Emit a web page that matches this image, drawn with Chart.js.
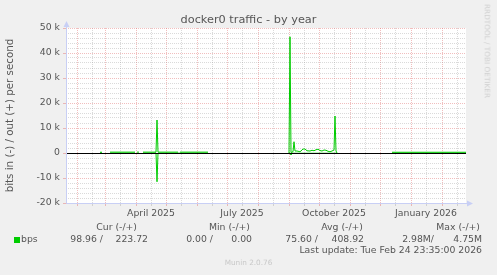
<!DOCTYPE html>
<html>
<head>
<meta charset="utf-8">
<script src="https://cdn.jsdelivr.net/npm/chart.js@4/dist/chart.umd.min.js"></script>
<style>
  body { margin: 0; background: #f0f0f0; }
  #wrap { position: relative; width: 497px; height: 275px; font-family: 'DejaVu Sans', sans-serif; color: #555; }
  #wrap canvas { position: absolute; left: 0; top: 0; }
  .t { position: absolute; white-space: nowrap; line-height: 1; font-size: 9.3px; }
</style>
</head>
<body>
<div id="wrap">
  <canvas id="chart" width="497" height="275"></canvas>
  <div class="t" style="left:0;width:497px;text-align:center;top:13.9px;font-size:11.3px">docker0 traffic - by year</div>
  <div class="t" style="left:487px;top:51px;font-size:7.3px;color:#cfcfcf;transform:translate(-50%,-50%) rotate(90deg)">RRDTOOL / TOBI OETIKER</div>

  <div class="t" style="right:360px;top:222.4px">Cur (-/+)</div>
  <div class="t" style="right:247px;top:222.4px">Min (-/+)</div>
  <div class="t" style="right:134px;top:222.4px">Avg (-/+)</div>
  <div class="t" style="right:17px;top:222.4px">Max (-/+)</div>

  <div style="position:absolute;left:14px;top:237px;width:6px;height:6px;background:#00cc00"></div>
  <div class="t" style="left:21px;top:234.4px">bps</div>
  <div class="t" style="right:394px;top:234.4px">98.96 /</div>
  <div class="t" style="right:349px;top:234.4px">223.72</div>
  <div class="t" style="right:284px;top:234.4px">0.00 /</div>
  <div class="t" style="right:245px;top:234.4px">0.00</div>
  <div class="t" style="right:179px;top:234.4px">75.60 /</div>
  <div class="t" style="right:133px;top:234.4px">408.92</div>
  <div class="t" style="right:63px;top:234.4px">2.98M/</div>
  <div class="t" style="right:15px;top:234.4px">4.75M</div>

  <div class="t" style="right:15px;top:245.2px">Last update: Tue Feb 24 23:35:00 2026</div>
  <div class="t" style="left:0;width:497px;text-align:center;top:259.2px;font-size:7.3px;color:#c8c8c8">Munin 2.0.76</div>
</div>
<script>
// x values are days since 1 Jan 2025; the graph covers 400 days ending 24 Feb 2026 23:35
const xMin = 20;
const xMax = 420;

// month starts (major grid) and mid-months (minor grid)
const monthStarts = [31, 59, 90, 120, 151, 181, 212, 243, 273, 304, 334, 365, 396];
const midMonths = [46, 74, 105, 135, 166, 196, 227, 258, 288, 319, 349, 380, 411];
const xLabelDays = [105, 196, 288, 380];
const xLabels = ['April 2025', 'July 2025', 'October 2025', 'January 2026'];

const yMajor = [-20000, -10000, 0, 10000, 20000, 30000, 40000, 50000];
const yLabels = ['-20 k', '-10 k', '0', '10 k', '20 k', '30 k', '40 k', '50 k'];

// out (+), bits per second; null = no data
const outDays = [54, 56, 57, 64, 89, 90, 91, 93, 94, 97, 110, 111, 112, 132, 133, 134, 162, 163,
  243, 244, 245, 247, 248, 249, 251, 254, 256, 257, 259, 261, 264, 266, 268, 270, 272, 274,
  276, 278, 280, 282, 284, 286, 288, 289, 290, 291, 292, 346, 420];
const outBps = [300, 300, null, 350, 350, null, 350, 350, null, 350, 350, 13200, 350, 350, null, 350, 350, null,
  0, 46500, 200, 500, 4500, 800, 800, 500, 1200, 1600, 1600, 900, 800, 1100, 900, 1300, 1500, 1000,
  800, 1200, 1100, 700, 500, 800, 1200, 14800, 800, 0, null, 300, 300];

// in (-), drawn negative
const inDays = [54, 56, 57, 64, 89, 90, 97, 110, 111, 112, 162, 163, 243, 244, 245, 246, 291, 292, 346, 420];
const inBps = [-50, -50, null, -50, -50, null, -50, -50, -11500, -50, -50, null, 0, -100, -800, -100, -100, null, -50, -50];

const majorGrid = 'rgba(225,110,110,0.45)';
const minorGrid = 'rgba(150,150,150,0.35)';
const axisColor = '#c8cff5';
const font = { family: 'DejaVu Sans', size: 9.3 };

const rrdLook = {
  id: 'rrdLook',
  beforeDraw: (chart) => {
    const { ctx, chartArea: a } = chart;
    ctx.save();
    ctx.fillStyle = '#ffffff';
    ctx.fillRect(a.left, a.top, a.right - a.left, a.bottom - a.top);
    ctx.restore();
  },
  afterDatasetsDraw: (chart) => {
    const { ctx, chartArea: a } = chart;
    const y0 = Math.round(chart.scales.y.getPixelForValue(0)) + 0.5;
    const ax = a.left + 0.5;
    const ay = a.bottom + 0.5;
    ctx.save();
    ctx.lineWidth = 1;
    ctx.strokeStyle = '#000000';
    ctx.beginPath();
    ctx.moveTo(a.left, y0);
    ctx.lineTo(a.right, y0);
    ctx.stroke();

    ctx.strokeStyle = axisColor;
    ctx.fillStyle = axisColor;
    ctx.beginPath();
    ctx.moveTo(ax, ay);
    ctx.lineTo(ax, a.top - 4);
    ctx.moveTo(ax, ay);
    ctx.lineTo(a.right + 4, ay);
    ctx.stroke();
    ctx.beginPath();
    ctx.moveTo(ax, a.top - 7);
    ctx.lineTo(ax - 3, a.top - 1);
    ctx.lineTo(ax + 3, a.top - 1);
    ctx.closePath();
    ctx.fill();
    ctx.beginPath();
    ctx.moveTo(a.right + 7, ay);
    ctx.lineTo(a.right + 1, ay - 3);
    ctx.lineTo(a.right + 1, ay + 3);
    ctx.closePath();
    ctx.fill();
    ctx.restore();
  }
};

const toPoints = (xs, ys) => xs.map((d, i) => ({ x: d, y: ys[i] }));

new Chart(document.getElementById('chart'), {
  type: 'line',
  data: {
    datasets: [
      {
        label: 'out',
        data: toPoints(outDays, outBps),
        borderColor: '#00cc00',
        borderWidth: 1,
        pointRadius: 0,
        spanGaps: false,
        tension: 0
      },
      {
        label: 'in',
        data: toPoints(inDays, inBps),
        borderColor: '#00cc00',
        borderWidth: 1,
        pointRadius: 0,
        spanGaps: false,
        tension: 0
      }
    ]
  },
  options: {
    responsive: false,
    animation: false,
    events: [],
    layout: { padding: { left: 0, right: 31, top: 28, bottom: 0 } },
    plugins: { legend: { display: false }, title: { display: false }, tooltip: { enabled: false } },
    scales: {
      x: {
        type: 'linear',
        min: xMin,
        max: xMax,
        afterFit: (s) => { s.height = 72; },
        afterBuildTicks: (s) => {
          s.ticks = monthStarts.concat(midMonths).sort((a, b) => a - b).map((v) => ({ value: v }));
        },
        ticks: {
          autoSkip: false,
          maxRotation: 0,
          minRotation: 0,
          font: font,
          color: '#555',
          padding: 2,
          callback: (v) => {
            const i = xLabelDays.indexOf(v);
            return i >= 0 ? xLabels[i] : '';
          }
        },
        grid: {
          color: (c) => monthStarts.includes(c.tick.value) ? majorGrid : minorGrid,
          tickColor: (c) => monthStarts.includes(c.tick.value) ? majorGrid : minorGrid,
          lineWidth: 1,
          tickLength: 3
        },
        border: { display: false, dash: [1, 1] }
      },
      y: {
        min: -20000,
        max: 50000,
        afterFit: (s) => { s.width = 66; },
        ticks: {
          stepSize: 2000,
          autoSkip: false,
          font: font,
          color: '#555',
          padding: 3,
          callback: (v) => {
            const i = yMajor.indexOf(v);
            return i >= 0 ? yLabels[i] : '';
          }
        },
        grid: {
          color: (c) => c.tick.value % 10000 === 0 ? majorGrid : minorGrid,
          tickColor: (c) => c.tick.value % 10000 === 0 ? majorGrid : 'rgba(0,0,0,0)',
          lineWidth: 1,
          tickLength: 3
        },
        border: { display: false, dash: [1, 1] },
        title: {
          display: true,
          text: 'bits in (-) / out (+) per second',
          color: '#555',
          font: { family: 'DejaVu Sans', size: 10.3 },
          padding: { top: 4, bottom: 0 }
        }
      }
    }
  },
  plugins: [rrdLook]
});
</script>
</body>
</html>
